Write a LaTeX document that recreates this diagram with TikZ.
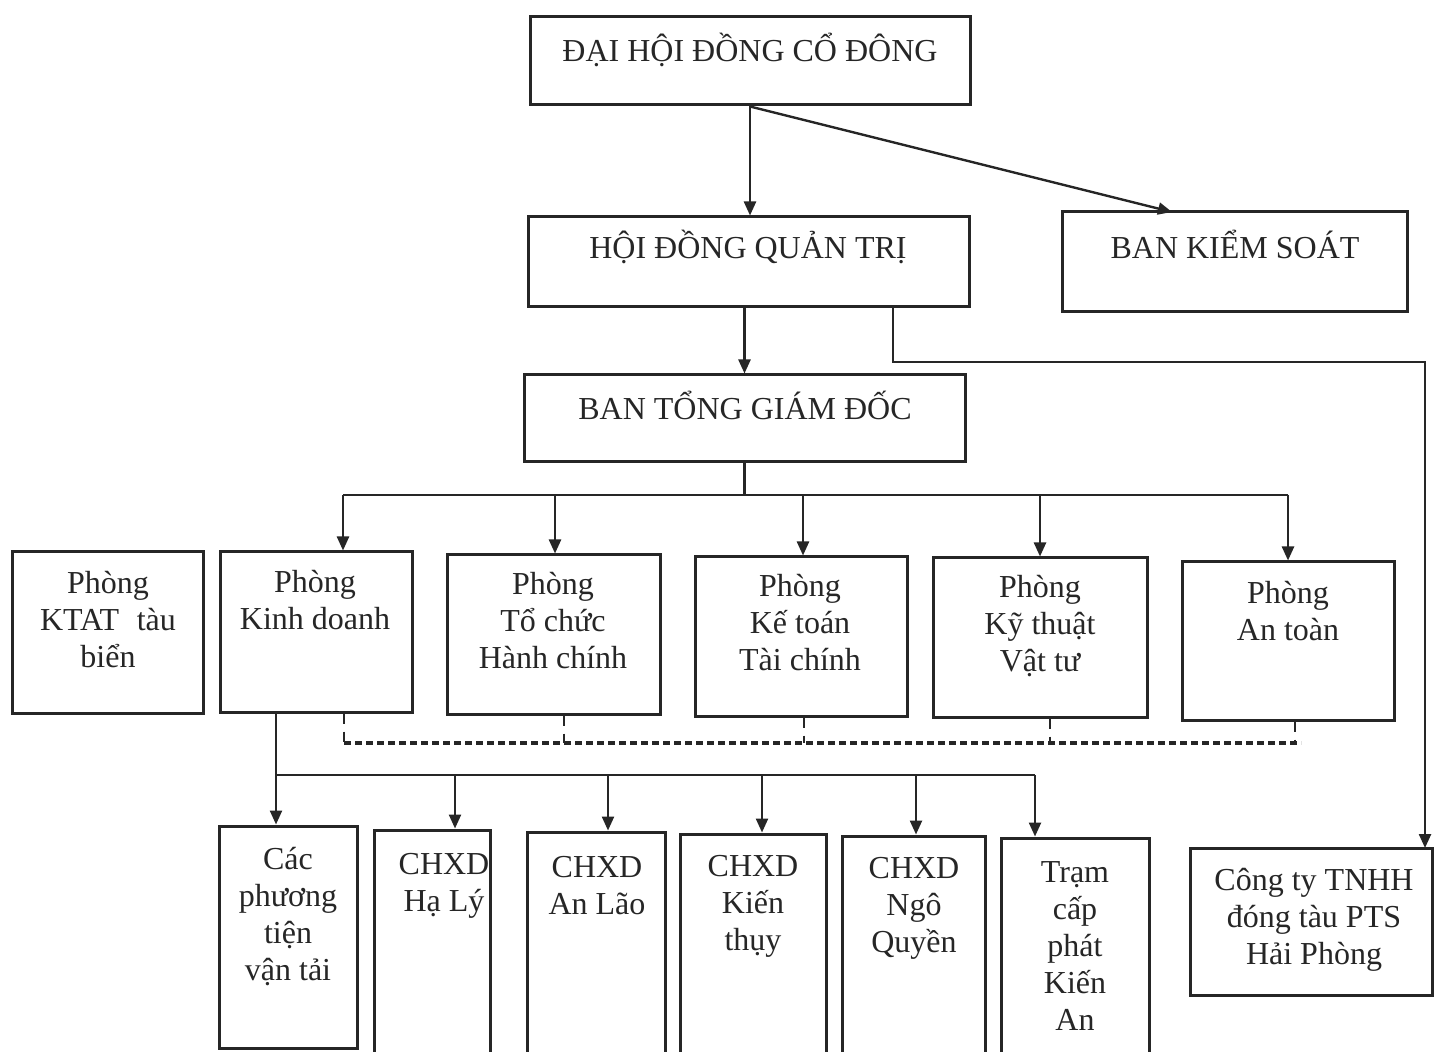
\documentclass[tikz,border=0pt]{standalone}
\usepackage{fontspec}
\setmainfont{Liberation Serif}
\usetikzlibrary{arrows.meta,fit}
\definecolor{ink}{HTML}{262626}
\begin{document}
\begin{tikzpicture}[x=0.5pt,y=-0.5pt,
  box/.style={draw=ink,line width=1.5pt,inner sep=0pt},
  txt/.style={align=center,font=\fontsize{16}{18.5}\selectfont,text=ink,inner sep=0pt},
  con/.style={draw=ink,line width=1.2pt},
  arr/.style={con,-{Triangle[length=7pt,width=6pt]}},
  dsh/.style={draw=ink,line width=1.2pt,dash pattern=on 5pt off 4pt},
  dshh/.style={draw=ink,line width=1.9pt,dash pattern=on 3.5pt off 2pt}]
\clip (0,0) rectangle (1434,1052);
\fill[white] (0,0) rectangle (1434,1052);

% top level boxes
\node[box,fit={(530,17) (970,105)}] (dh) {};
\node[box,fit={(528,217) (969,307)}] (hd) {};
\node[box,fit={(1062,212) (1407,312)}] (bks) {};
\node[box,fit={(524,375) (965,462)}] (bt) {};
\node[box,fit={(1190,848) (1432,995)}] (ct) {};

\node[txt] (tdh) at (750,50) {ĐẠI HỘI ĐỒNG CỔ ĐÔNG};
\node[txt] (thd) at (748,247) {HỘI ĐỒNG QUẢN TRỊ};
\node[txt] (tbks) at (1235,244) {BAN KIỂM SOÁT};
\node[txt] (tbt) at (745,405) {BAN TỔNG GIÁM ĐỐC};
\node[txt] (tct) at (1314,920) {Công ty TNHH\\đóng tàu PTS\\Hải Phòng};

% department boxes
\node[box,fit={(12,552) (203,713)}] (kta) {};
\node[box,fit={(220,552) (412,712)}] (kd) {};
\node[box,fit={(447,555) (660,714)}] (tc) {};
\node[box,fit={(695,557) (907,716)}] (kt) {};
\node[box,fit={(933,558) (1147,717)}] (kth) {};
\node[box,fit={(1182,562) (1394,720)}] (at) {};

\node[txt] (tkta) at (108,620) {Phòng\\KTAT\hspace{0.55em}tàu\\biển};
\node[txt] (tkd) at (315,600) {Phòng\\Kinh doanh};
\node[txt] (ttc) at (553,621) {Phòng\\Tổ chức\\Hành chính};
\node[txt] (tkt) at (800,623) {Phòng\\Kế toán\\Tài chính};
\node[txt] (tkth) at (1040,626) {Phòng\\Kỹ thuật\\Vật tư};
\node[txt] (tat) at (1288,611) {Phòng\\An toàn};

% bottom boxes
\node[box,fit={(219,826) (357,1048)}] (cpt) {};
\node[box,fit={(374,830) (490,1075)}] (hl) {};
\node[box,fit={(527,832) (665,1075)}] (al) {};
\node[box,fit={(680,834) (826,1075)}] (kty) {};
\node[box,fit={(842,836) (985,1075)}] (nq) {};
\node[box,fit={(1001,838) (1149,1075)}] (tr) {};

\node[txt] (tcpt) at (288,917) {Các\\phương\\tiện\\vận tải};
\node[txt] (thl) at (444,886) {CHXD\\Hạ Lý};
\node[txt] (tal) at (597,886) {CHXD\\An Lão};
\node[txt] (tkty) at (753,906) {CHXD\\Kiến\\thụy};
\node[txt] (tnq) at (914,908) {CHXD\\Ngô\\Quyền};
\node[txt] (ttr) at (1075,946) {Trạm\\cấp\\phát\\Kiến\\An};

% connectors top
\draw[arr] (dh.south) -- (dh.south |- hd.north);
\coordinate (bkstip) at (1172,212);
\draw[arr] (dh.south) -- (bkstip);
\draw[arr] (hd.south -| bt.north) -- (bt.north);
\coordinate (hq1) at (893,307);
\coordinate (ctin) at (1425,848);
\draw[arr] (hq1) -- ++(0,55) -| (ctin);

% bus from BTGD
\coordinate (busm) at (745,495);
\coordinate (b1) at (343,495);
\coordinate (b2) at (555,495);
\coordinate (b3) at (803,495);
\coordinate (b4) at (1040,495);
\coordinate (b5) at (1288,495);
\draw[con] (bt.south) -- (bt.south |- busm);
\draw[con] (b1) -- (b5);
\draw[arr] (b1) -- (b1 |- kd.north);
\draw[arr] (b2) -- (b2 |- tc.north);
\draw[arr] (b3) -- (b3 |- kt.north);
\draw[arr] (b4) -- (b4 |- kth.north);
\draw[arr] (b5) -- (b5 |- at.north);

% dashed links
\coordinate (dl) at (0,743);
\coordinate (d1) at (344,0);
\coordinate (d2) at (564,0);
\coordinate (d3) at (804,0);
\coordinate (d4) at (1050,0);
\coordinate (d5) at (1295,0);
\draw[dsh] (d1 |- kd.south) -- (d1 |- dl);
\draw[dsh] (d2 |- tc.south) -- (d2 |- dl);
\draw[dsh] (d3 |- kt.south) -- (d3 |- dl);
\draw[dsh] (d4 |- kth.south) -- (d4 |- dl);
\draw[dsh] (d5 |- at.south) -- (d5 |- dl);
\draw[dshh] (d1 |- dl) -- ([xshift=3pt]d5 |- dl);

% bus from Kinh doanh
\coordinate (k0) at (276,775);
\coordinate (k1) at (455,775);
\coordinate (k2) at (608,775);
\coordinate (k3) at (762,775);
\coordinate (k4) at (916,775);
\coordinate (k5) at (1035,775);
\draw[arr] (k0 |- kd.south) -- (k0 |- cpt.north);
\draw[con] (k0) -- (k5);
\draw[arr] (k1) -- (k1 |- hl.north);
\draw[arr] (k2) -- (k2 |- al.north);
\draw[arr] (k3) -- (k3 |- kty.north);
\draw[arr] (k4) -- (k4 |- nq.north);
\draw[arr] (k5) -- (k5 |- tr.north);
\end{tikzpicture}
\end{document}
